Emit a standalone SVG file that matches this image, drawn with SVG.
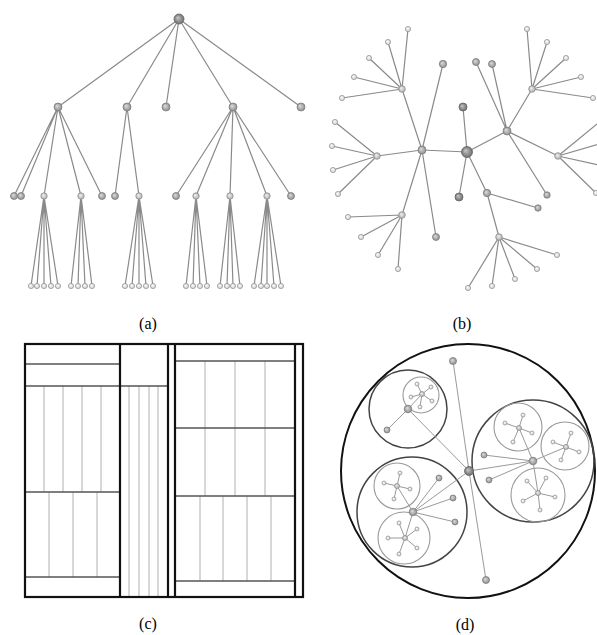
<svg xmlns="http://www.w3.org/2000/svg" width="597" height="635" viewBox="0 0 597 635">
<defs>
<radialGradient id="gDark" cx="0.5" cy="0.5" r="0.5" fx="0.35" fy="0.35"><stop offset="0" stop-color="#c8c8c8"/><stop offset="1" stop-color="#6e6e6e"/></radialGradient>
<radialGradient id="gMid" cx="0.5" cy="0.5" r="0.5" fx="0.35" fy="0.35"><stop offset="0" stop-color="#e0e0e0"/><stop offset="1" stop-color="#8e8e8e"/></radialGradient>
<radialGradient id="gLight" cx="0.5" cy="0.5" r="0.5" fx="0.35" fy="0.35"><stop offset="0" stop-color="#f4f4f4"/><stop offset="1" stop-color="#b0b0b0"/></radialGradient>
<radialGradient id="gLeaf" cx="0.5" cy="0.5" r="0.5" fx="0.35" fy="0.35"><stop offset="0" stop-color="#ffffff"/><stop offset="1" stop-color="#cfcfcf"/></radialGradient>
</defs>
<style>
.e{stroke:#8a8a8a;stroke-width:1.2;fill:none}
.e2{stroke:#9a9a9a;stroke-width:1;fill:none}
.nd{fill:url(#gDark);stroke:#666;stroke-width:0.8}
.nm{fill:url(#gMid);stroke:#808080;stroke-width:0.8}
.nl{fill:url(#gLight);stroke:#909090;stroke-width:0.8}
.nf{fill:url(#gLeaf);stroke:#999;stroke-width:0.8}
.tk{stroke:#111;stroke-width:2.2;fill:none}
.hz{stroke:#555;stroke-width:1.4;fill:none}
.vt{stroke:#b0b0b0;stroke-width:1;fill:none}
.c0{stroke:#111;stroke-width:2;fill:none}
.c1{stroke:#444;stroke-width:1.5;fill:none}
.c2{stroke:#999;stroke-width:1.1;fill:none}
.lb{font-family:"Liberation Serif","Times New Roman",serif;font-size:16px;fill:#000;text-anchor:middle}
</style>
<rect width="597" height="635" fill="#fff"/>

<!-- (a) tree -->
<g id="a-connectors">
<path class="e" d="M179,19L58,107M179,19L127,107M179,19L166,107M179,19L233,107M179,19L301,107"/>
<path class="e" d="M58,107L14,196M58,107L21,196M58,107L44,196M58,107L81,196M58,107L102,196M127,107L115,196M127,107L139,196M233,107L176,196M233,107L196,196M233,107L230,196M233,107L267,196M233,107L291,196"/>
<path class="e" d="M44,196L31,286M44,196L37,286M44,196L44,286M44,196L51,286M44,196L58,286M81,196L71,286M81,196L78,286M81,196L85,286M81,196L92,286M139,196L125,286M139,196L132,286M139,196L139,286M139,196L146,286M139,196L153,286M196,196L186,286M196,196L193,286M196,196L200,286M196,196L207,286M230,196L220,286M230,196L227,286M230,196L233,286M230,196L240,286M267,196L254,286M267,196L261,286M267,196L267,286M267,196L274,286M267,196L281,286"/>
</g>
<g id="a-nodes">
<g id="a-root"><circle class="nd" cx="179" cy="19" r="5"/></g>
<g id="a-1"><circle class="nm" cx="58" cy="107" r="4"/></g>
<g id="a-2"><circle class="nm" cx="127" cy="107" r="4"/></g>
<g id="a-3"><circle class="nm" cx="166" cy="107" r="4"/></g>
<g id="a-4"><circle class="nm" cx="233" cy="107" r="4"/></g>
<g id="a-5"><circle class="nm" cx="301" cy="107" r="4"/></g>
<g id="a-1-1"><circle class="nm" cx="14" cy="196" r="3.5"/></g>
<g id="a-1-2"><circle class="nm" cx="21" cy="196" r="3.5"/></g>
<g id="a-1-3"><circle class="nl" cx="44" cy="196" r="3.2"/></g>
<g id="a-1-4"><circle class="nl" cx="81" cy="196" r="3.2"/></g>
<g id="a-1-5"><circle class="nm" cx="102" cy="196" r="3.5"/></g>
<g id="a-2-1"><circle class="nm" cx="115" cy="196" r="3.5"/></g>
<g id="a-2-2"><circle class="nl" cx="139" cy="196" r="3.2"/></g>
<g id="a-4-1"><circle class="nm" cx="176" cy="196" r="3.5"/></g>
<g id="a-4-2"><circle class="nl" cx="196" cy="196" r="3.2"/></g>
<g id="a-4-3"><circle class="nl" cx="230" cy="196" r="3.2"/></g>
<g id="a-4-4"><circle class="nl" cx="267" cy="196" r="3.2"/></g>
<g id="a-4-5"><circle class="nm" cx="291" cy="196" r="3.5"/></g>
<g id="a-leaves">
<g id="a-l1"><circle class="nf" cx="31" cy="286" r="2.6"/></g>
<g id="a-l2"><circle class="nf" cx="37" cy="286" r="2.6"/></g>
<g id="a-l3"><circle class="nf" cx="44" cy="286" r="2.6"/></g>
<g id="a-l4"><circle class="nf" cx="51" cy="286" r="2.6"/></g>
<g id="a-l5"><circle class="nf" cx="58" cy="286" r="2.6"/></g>
<g id="a-l6"><circle class="nf" cx="71" cy="286" r="2.6"/></g>
<g id="a-l7"><circle class="nf" cx="78" cy="286" r="2.6"/></g>
<g id="a-l8"><circle class="nf" cx="85" cy="286" r="2.6"/></g>
<g id="a-l9"><circle class="nf" cx="92" cy="286" r="2.6"/></g>
<g id="a-l10"><circle class="nf" cx="125" cy="286" r="2.6"/></g>
<g id="a-l11"><circle class="nf" cx="132" cy="286" r="2.6"/></g>
<g id="a-l12"><circle class="nf" cx="139" cy="286" r="2.6"/></g>
<g id="a-l13"><circle class="nf" cx="146" cy="286" r="2.6"/></g>
<g id="a-l14"><circle class="nf" cx="153" cy="286" r="2.6"/></g>
<g id="a-l15"><circle class="nf" cx="186" cy="286" r="2.6"/></g>
<g id="a-l16"><circle class="nf" cx="193" cy="286" r="2.6"/></g>
<g id="a-l17"><circle class="nf" cx="200" cy="286" r="2.6"/></g>
<g id="a-l18"><circle class="nf" cx="207" cy="286" r="2.6"/></g>
<g id="a-l19"><circle class="nf" cx="220" cy="286" r="2.6"/></g>
<g id="a-l20"><circle class="nf" cx="227" cy="286" r="2.6"/></g>
<g id="a-l21"><circle class="nf" cx="233" cy="286" r="2.6"/></g>
<g id="a-l22"><circle class="nf" cx="240" cy="286" r="2.6"/></g>
<g id="a-l23"><circle class="nf" cx="254" cy="286" r="2.6"/></g>
<g id="a-l24"><circle class="nf" cx="261" cy="286" r="2.6"/></g>
<g id="a-l25"><circle class="nf" cx="267" cy="286" r="2.6"/></g>
<g id="a-l26"><circle class="nf" cx="274" cy="286" r="2.6"/></g>
<g id="a-l27"><circle class="nf" cx="281" cy="286" r="2.6"/></g>
</g>
</g>
<text class="lb" x="148" y="329">(a)</text>

<!-- (b) radial tree -->
<g id="b-connectors">
<path class="e" d="M467,152L422,150M467,152L463,107M467,152L459,197M467,152L487,193M467,152L507,131"/>
<path class="e" d="M422,150L402,89M422,150L443,64M422,150L377,156M422,150L402,215M422,150L436,237"/>
<path class="e" d="M402,89L408,29M402,89L388,42M402,89L369,58M402,89L354,77M402,89L342,98"/>
<path class="e" d="M377,156L335,122M377,156L332,146M377,156L333,170M377,156L338,194"/>
<path class="e" d="M402,215L348,217M402,215L361,237M402,215L378,255M402,215L398,269"/>
<path class="e" d="M487,193L538,208M487,193L499,237"/>
<path class="e" d="M499,237L468,288M499,237L492,286M499,237L515,279M499,237L537,269M499,237L557,255"/>
<path class="e" d="M507,131L476,62M507,131L492,64M507,131L532,89M507,131L547,195M507,131L558,156"/>
<path class="e" d="M532,89L527,29M532,89L547,42M532,89L566,58M532,89L581,77M532,89L593,98"/>
<path class="e" d="M558,156L602,120M558,156L603,143M558,156L603,166M558,156L596,193"/>
</g>
<g id="b-nodes">
<g id="b-root"><circle class="nd" cx="467" cy="152" r="5.5"/></g>
<g id="b-n1"><circle class="nd" cx="463" cy="107" r="4"/></g>
<g id="b-n2"><circle class="nd" cx="459" cy="197" r="4"/></g>
<g id="b-E"><circle class="nm" cx="422" cy="150" r="4"/></g>
<g id="b-B"><circle class="nm" cx="507" cy="131" r="4"/></g>
<g id="b-G"><circle class="nm" cx="487" cy="193" r="3.7"/></g>
<g id="b-n3"><circle class="nm" cx="443" cy="64" r="3.7"/></g>
<g id="b-n4"><circle class="nm" cx="476" cy="62" r="3.5"/></g>
<g id="b-n5"><circle class="nm" cx="492" cy="64" r="3.5"/></g>
<g id="b-n6"><circle class="nm" cx="436" cy="237" r="3.5"/></g>
<g id="b-n7"><circle class="nm" cx="538" cy="208" r="3.2"/></g>
<g id="b-n8"><circle class="nm" cx="547" cy="195" r="3.2"/></g>
<g id="b-A"><circle class="nl" cx="402" cy="89" r="3.3"/></g>
<g id="b-C"><circle class="nl" cx="532" cy="89" r="3.3"/></g>
<g id="b-D"><circle class="nl" cx="377" cy="156" r="3.3"/></g>
<g id="b-F"><circle class="nl" cx="402" cy="215" r="3.3"/></g>
<g id="b-H"><circle class="nl" cx="499" cy="237" r="3.3"/></g>
<g id="b-I"><circle class="nl" cx="558" cy="156" r="3.3"/></g>
<g id="b-leaves">
<g id="b-l1"><circle class="nf" cx="408" cy="29" r="2.6"/></g>
<g id="b-l2"><circle class="nf" cx="388" cy="42" r="2.6"/></g>
<g id="b-l3"><circle class="nf" cx="369" cy="58" r="2.6"/></g>
<g id="b-l4"><circle class="nf" cx="354" cy="77" r="2.6"/></g>
<g id="b-l5"><circle class="nf" cx="342" cy="98" r="2.6"/></g>
<g id="b-l6"><circle class="nf" cx="335" cy="122" r="2.6"/></g>
<g id="b-l7"><circle class="nf" cx="332" cy="146" r="2.6"/></g>
<g id="b-l8"><circle class="nf" cx="333" cy="170" r="2.6"/></g>
<g id="b-l9"><circle class="nf" cx="338" cy="194" r="2.6"/></g>
<g id="b-l10"><circle class="nf" cx="348" cy="217" r="2.6"/></g>
<g id="b-l11"><circle class="nf" cx="361" cy="237" r="2.6"/></g>
<g id="b-l12"><circle class="nf" cx="378" cy="255" r="2.6"/></g>
<g id="b-l13"><circle class="nf" cx="398" cy="269" r="2.6"/></g>
<g id="b-l14"><circle class="nf" cx="468" cy="288" r="2.6"/></g>
<g id="b-l15"><circle class="nf" cx="492" cy="286" r="2.6"/></g>
<g id="b-l16"><circle class="nf" cx="515" cy="279" r="2.6"/></g>
<g id="b-l17"><circle class="nf" cx="537" cy="269" r="2.6"/></g>
<g id="b-l18"><circle class="nf" cx="557" cy="255" r="2.6"/></g>
<g id="b-l19"><circle class="nf" cx="527" cy="29" r="2.6"/></g>
<g id="b-l20"><circle class="nf" cx="547" cy="42" r="2.6"/></g>
<g id="b-l21"><circle class="nf" cx="566" cy="58" r="2.6"/></g>
<g id="b-l22"><circle class="nf" cx="581" cy="77" r="2.6"/></g>
<g id="b-l23"><circle class="nf" cx="593" cy="98" r="2.6"/></g>
<g id="b-l24"><circle class="nf" cx="602" cy="120" r="2.6"/></g>
<g id="b-l25"><circle class="nf" cx="603" cy="143" r="2.6"/></g>
<g id="b-l26"><circle class="nf" cx="603" cy="166" r="2.6"/></g>
<g id="b-l27"><circle class="nf" cx="596" cy="193" r="2.6"/></g>
</g>
</g>
<text class="lb" x="462" y="329">(b)</text>

<!-- (c) treemap -->
<g id="c-treemap">
<path class="vt" d="M44,386V492M63,386V492M82,386V492M101,386V492M49,492V577M73,492V577M97,492V577"/>
<path class="vt" d="M129,386V597M139,386V597M149,386V597M158,386V597"/>
<path class="vt" d="M205,361V496M235,361V496M265,361V496M200,496V581M223,496V581M247,496V581M271,496V581"/>
<path class="hz" d="M25,364H120M25,386H168M25,492H120M25,577H120"/>
<path class="hz" d="M175,361H295M175,428H295M175,496H295M175,581H295"/>
<rect class="tk" x="25" y="344" width="278" height="253"/>
<path class="tk" d="M120,344V597M168,344V597M175,344V597M295,344V597"/>
</g>
<text class="lb" x="148" y="629">(c)</text>

<!-- (d) nested circles -->
<g id="d-circles">
<circle class="c0" cx="468" cy="471" r="127"/>
<circle class="c1" cx="408" cy="409" r="39"/>
<circle class="c1" cx="533" cy="461" r="61"/>
<circle class="c1" cx="412" cy="512" r="55"/>
<circle class="c2" cx="421" cy="395" r="18"/>
<circle class="c2" cx="518" cy="427" r="24"/>
<circle class="c2" cx="565" cy="446" r="24"/>
<circle class="c2" cx="538" cy="495" r="27"/>
<circle class="c2" cx="397" cy="486" r="23"/>
<circle class="c2" cx="404" cy="538" r="26"/>
</g>
<g id="d-connectors">
<path class="e2" d="M469,471L453,361M469,471L408,409M469,471L533,461M469,471L413,512M469,471L486,580"/>
<path class="e2" d="M408,409L422,394M408,409L387,430"/>
<path class="e2" d="M422,394L417,384M422,394L431,387M422,394L432,401M422,394L420,407M422,394L411,397"/>
<path class="e2" d="M533,461L519,428M533,461L566,447M533,461L538,493M533,461L484,455M533,461L489,480"/>
<path class="e2" d="M519,428L523,415M519,428L532,433M519,428L513,442M519,428L505,423"/>
<path class="e2" d="M566,447L571,433M566,447L579,452M566,447L561,460M566,447L553,442"/>
<path class="e2" d="M538,493L527,481M538,493L546,478M538,493L555,497M538,493L540,510M538,493L523,501"/>
<path class="e2" d="M413,512L397,486M413,512L405,538M413,512L439,478M413,512L453,498M413,512L455,522"/>
<path class="e2" d="M397,486L400,473M397,486L410,489M397,486L394,499M397,486L384,483"/>
<path class="e2" d="M405,538L399,523M405,538L417,529M405,538L417,548M405,538L399,554M405,538L388,538"/>
</g>
<g id="d-nodes">
<g id="d-root"><circle class="nd" cx="469" cy="471" r="4.5"/></g>
<g id="d-top"><circle class="nm" cx="453" cy="361" r="3.5"/></g>
<g id="d-bottom"><circle class="nm" cx="486" cy="580" r="3.5"/></g>
<g id="d-P1"><circle class="nm" cx="408" cy="409" r="3.8"/></g>
<g id="d-P2"><circle class="nm" cx="533" cy="461" r="3.8"/></g>
<g id="d-P3"><circle class="nm" cx="413" cy="512" r="3.8"/></g>
<g id="d-p1leaf"><circle class="nm" cx="387" cy="430" r="3"/></g>
<g id="d-p2l1"><circle class="nm" cx="484" cy="455" r="3"/></g>
<g id="d-p2l2"><circle class="nm" cx="489" cy="480" r="3"/></g>
<g id="d-p3l1"><circle class="nm" cx="439" cy="478" r="3"/></g>
<g id="d-p3l2"><circle class="nm" cx="453" cy="498" r="3"/></g>
<g id="d-p3l3"><circle class="nm" cx="455" cy="522" r="3"/></g>
<g id="d-h1"><circle class="nl" cx="422" cy="394" r="2.5"/></g>
<g id="d-h2"><circle class="nl" cx="519" cy="428" r="2.5"/></g>
<g id="d-h3"><circle class="nl" cx="566" cy="447" r="2.5"/></g>
<g id="d-h4"><circle class="nl" cx="538" cy="493" r="2.5"/></g>
<g id="d-h5"><circle class="nl" cx="397" cy="486" r="2.5"/></g>
<g id="d-h6"><circle class="nl" cx="405" cy="538" r="2.5"/></g>
<g id="d-leaves">
<g id="d-l1"><circle class="nf" cx="417" cy="384" r="2"/></g>
<g id="d-l2"><circle class="nf" cx="431" cy="387" r="2"/></g>
<g id="d-l3"><circle class="nf" cx="432" cy="401" r="2"/></g>
<g id="d-l4"><circle class="nf" cx="420" cy="407" r="2"/></g>
<g id="d-l5"><circle class="nf" cx="411" cy="397" r="2"/></g>
<g id="d-l6"><circle class="nf" cx="523" cy="415" r="2"/></g>
<g id="d-l7"><circle class="nf" cx="532" cy="433" r="2"/></g>
<g id="d-l8"><circle class="nf" cx="513" cy="442" r="2"/></g>
<g id="d-l9"><circle class="nf" cx="505" cy="423" r="2"/></g>
<g id="d-l10"><circle class="nf" cx="571" cy="433" r="2"/></g>
<g id="d-l11"><circle class="nf" cx="579" cy="452" r="2"/></g>
<g id="d-l12"><circle class="nf" cx="561" cy="460" r="2"/></g>
<g id="d-l13"><circle class="nf" cx="553" cy="442" r="2"/></g>
<g id="d-l14"><circle class="nf" cx="527" cy="481" r="2"/></g>
<g id="d-l15"><circle class="nf" cx="546" cy="478" r="2"/></g>
<g id="d-l16"><circle class="nf" cx="555" cy="497" r="2"/></g>
<g id="d-l17"><circle class="nf" cx="540" cy="510" r="2"/></g>
<g id="d-l18"><circle class="nf" cx="523" cy="501" r="2"/></g>
<g id="d-l19"><circle class="nf" cx="400" cy="473" r="2"/></g>
<g id="d-l20"><circle class="nf" cx="410" cy="489" r="2"/></g>
<g id="d-l21"><circle class="nf" cx="394" cy="499" r="2"/></g>
<g id="d-l22"><circle class="nf" cx="384" cy="483" r="2"/></g>
<g id="d-l23"><circle class="nf" cx="399" cy="523" r="2"/></g>
<g id="d-l24"><circle class="nf" cx="417" cy="529" r="2"/></g>
<g id="d-l25"><circle class="nf" cx="417" cy="548" r="2"/></g>
<g id="d-l26"><circle class="nf" cx="399" cy="554" r="2"/></g>
<g id="d-l27"><circle class="nf" cx="388" cy="538" r="2"/></g>
</g>
</g>
<text class="lb" x="465" y="630">(d)</text>
</svg>
